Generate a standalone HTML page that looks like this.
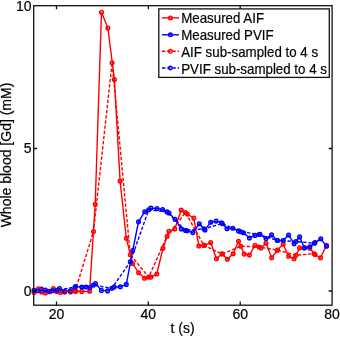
<!DOCTYPE html>
<html><head><meta charset="utf-8">
<style>
html,body{margin:0;padding:0;background:#fff;width:340px;height:337px;overflow:hidden}
svg{display:block}
text{font-family:"Liberation Sans",sans-serif;fill:#000;stroke:#000;stroke-width:0.2px}
</style></head><body>
<svg width="340" height="337" viewBox="0 0 340 337">
<rect width="340" height="337" fill="#fff"/>

<g font-size="14" style="filter:grayscale(1)">
<text x="56.5" y="318.8" text-anchor="middle">20</text>
<text x="148.3" y="318.8" text-anchor="middle">40</text>
<text x="240.2" y="318.8" text-anchor="middle">60</text>
<text x="332" y="318.8" text-anchor="middle">80</text>
<text x="31.6" y="296" text-anchor="end">0</text>
<text x="31.6" y="153.2" text-anchor="end">5</text>
<text x="31.6" y="10.7" text-anchor="end">10</text>
<text x="182.5" y="333" text-anchor="middle">t (s)</text>
<text transform="translate(11.4,155) rotate(-90)" text-anchor="middle">Whole blood [Gd] (mM)</text>
</g>
<!-- DATA -->
<g fill="none" stroke-width="1.4">
<g stroke="#f00"><path d="M34.0 292.6 L41.8 292.1 L45.4 293.0 L49.5 291.8 L53.3 288.6 L60.4 292.5 L64.7 292.1 L70.5 292.0 L76.0 291.2 L81.8 291.4 L89.6 291.2 L95.2 204.2 L101.5 12.3 L107.9 28.1 L114.4 79.5 L120.1 181.0 L126.3 238.3 L132.6 263.5 L138.6 272.8 L144.6 278.2 L151.0 277.1 L156.8 274.0 L163.0 248.2 L168.9 231.2 L174.8 228.9 L181.2 210.1 L187.4 214.0 L193.8 218.1 L198.9 246.0 L204.5 245.3 L210.7 242.5 L216.4 258.7 L222.1 253.8 L227.4 259.3 L233.1 253.8 L238.5 241.3 L244.2 254.1 L249.4 255.0 L255.0 245.4 L261.0 247.9 L266.0 243.3 L271.6 257.7 L277.3 250.3 L283.2 244.3 L288.6 256.3 L294.1 258.8 L299.6 247.9 L304.5 247.6 L309.8 248.2 L315.0 254.5 L320.5 257.8 L326.5 245.4"/><g stroke-width="1.5" stroke-dasharray="none"><circle cx="34.0" cy="292.6" r="1.8"/><circle cx="41.8" cy="292.1" r="1.8"/><circle cx="45.4" cy="293.0" r="1.8"/><circle cx="49.5" cy="291.8" r="1.8"/><circle cx="53.3" cy="288.6" r="1.8"/><circle cx="60.4" cy="292.5" r="1.8"/><circle cx="64.7" cy="292.1" r="1.8"/><circle cx="70.5" cy="292.0" r="1.8"/><circle cx="76.0" cy="291.2" r="1.8"/><circle cx="81.8" cy="291.4" r="1.8"/><circle cx="89.6" cy="291.2" r="1.8"/><circle cx="95.2" cy="204.2" r="1.8"/><circle cx="101.5" cy="12.3" r="1.8"/><circle cx="107.9" cy="28.1" r="1.8"/><circle cx="114.4" cy="79.5" r="1.8"/><circle cx="120.1" cy="181.0" r="1.8"/><circle cx="126.3" cy="238.3" r="1.8"/><circle cx="132.6" cy="263.5" r="1.8"/><circle cx="138.6" cy="272.8" r="1.8"/><circle cx="144.6" cy="278.2" r="1.8"/><circle cx="151.0" cy="277.1" r="1.8"/><circle cx="156.8" cy="274.0" r="1.8"/><circle cx="163.0" cy="248.2" r="1.8"/><circle cx="168.9" cy="231.2" r="1.8"/><circle cx="174.8" cy="228.9" r="1.8"/><circle cx="181.2" cy="210.1" r="1.8"/><circle cx="187.4" cy="214.0" r="1.8"/><circle cx="193.8" cy="218.1" r="1.8"/><circle cx="198.9" cy="246.0" r="1.8"/><circle cx="204.5" cy="245.3" r="1.8"/><circle cx="210.7" cy="242.5" r="1.8"/><circle cx="216.4" cy="258.7" r="1.8"/><circle cx="222.1" cy="253.8" r="1.8"/><circle cx="227.4" cy="259.3" r="1.8"/><circle cx="233.1" cy="253.8" r="1.8"/><circle cx="238.5" cy="241.3" r="1.8"/><circle cx="244.2" cy="254.1" r="1.8"/><circle cx="249.4" cy="255.0" r="1.8"/><circle cx="255.0" cy="245.4" r="1.8"/><circle cx="261.0" cy="247.9" r="1.8"/><circle cx="266.0" cy="243.3" r="1.8"/><circle cx="271.6" cy="257.7" r="1.8"/><circle cx="277.3" cy="250.3" r="1.8"/><circle cx="283.2" cy="244.3" r="1.8"/><circle cx="288.6" cy="256.3" r="1.8"/><circle cx="294.1" cy="258.8" r="1.8"/><circle cx="299.6" cy="247.9" r="1.8"/><circle cx="304.5" cy="247.6" r="1.8"/><circle cx="309.8" cy="248.2" r="1.8"/><circle cx="315.0" cy="254.5" r="1.8"/><circle cx="320.5" cy="257.8" r="1.8"/><circle cx="326.5" cy="245.4" r="1.8"/></g></g>
<g stroke="#00f"><path d="M34.0 290.2 L41.4 289.0 L45.4 290.0 L49.3 291.3 L52.4 290.8 L59.5 288.6 L64.7 291.3 L70.3 290.8 L75.6 286.6 L81.8 287.0 L86.0 287.0 L90.0 287.6 L95.5 283.6 L101.4 290.4 L107.6 290.9 L114.1 287.0 L120.3 286.8 L126.3 284.4 L132.7 250.5 L138.5 221.8 L144.7 211.7 L150.9 208.1 L157.0 208.6 L162.6 209.5 L169.0 213.0 L175.0 219.3 L181.2 228.9 L187.0 230.8 L192.9 232.6 L199.3 223.7 L205.0 230.0 L210.7 222.2 L216.1 221.1 L221.5 222.7 L227.0 228.8 L232.8 228.3 L238.5 230.9 L243.5 232.7 L249.4 238.0 L255.0 235.4 L260.0 234.3 L266.0 238.6 L271.6 234.9 L277.3 240.5 L283.2 240.5 L288.6 235.0 L294.1 243.7 L299.6 236.9 L304.4 248.0 L309.8 246.8 L315.0 242.6 L320.8 238.8 L326.5 246.3"/><g stroke-width="1.5" stroke-dasharray="none"><circle cx="34.0" cy="290.2" r="1.8"/><circle cx="41.4" cy="289.0" r="1.8"/><circle cx="45.4" cy="290.0" r="1.8"/><circle cx="49.3" cy="291.3" r="1.8"/><circle cx="52.4" cy="290.8" r="1.8"/><circle cx="59.5" cy="288.6" r="1.8"/><circle cx="64.7" cy="291.3" r="1.8"/><circle cx="70.3" cy="290.8" r="1.8"/><circle cx="75.6" cy="286.6" r="1.8"/><circle cx="81.8" cy="287.0" r="1.8"/><circle cx="86.0" cy="287.0" r="1.8"/><circle cx="90.0" cy="287.6" r="1.8"/><circle cx="95.5" cy="283.6" r="1.8"/><circle cx="101.4" cy="290.4" r="1.8"/><circle cx="107.6" cy="290.9" r="1.8"/><circle cx="114.1" cy="287.0" r="1.8"/><circle cx="120.3" cy="286.8" r="1.8"/><circle cx="126.3" cy="284.4" r="1.8"/><circle cx="132.7" cy="250.5" r="1.8"/><circle cx="138.5" cy="221.8" r="1.8"/><circle cx="144.7" cy="211.7" r="1.8"/><circle cx="150.9" cy="208.1" r="1.8"/><circle cx="157.0" cy="208.6" r="1.8"/><circle cx="162.6" cy="209.5" r="1.8"/><circle cx="169.0" cy="213.0" r="1.8"/><circle cx="175.0" cy="219.3" r="1.8"/><circle cx="181.2" cy="228.9" r="1.8"/><circle cx="187.0" cy="230.8" r="1.8"/><circle cx="192.9" cy="232.6" r="1.8"/><circle cx="199.3" cy="223.7" r="1.8"/><circle cx="205.0" cy="230.0" r="1.8"/><circle cx="210.7" cy="222.2" r="1.8"/><circle cx="216.1" cy="221.1" r="1.8"/><circle cx="221.5" cy="222.7" r="1.8"/><circle cx="227.0" cy="228.8" r="1.8"/><circle cx="232.8" cy="228.3" r="1.8"/><circle cx="238.5" cy="230.9" r="1.8"/><circle cx="243.5" cy="232.7" r="1.8"/><circle cx="249.4" cy="238.0" r="1.8"/><circle cx="255.0" cy="235.4" r="1.8"/><circle cx="260.0" cy="234.3" r="1.8"/><circle cx="266.0" cy="238.6" r="1.8"/><circle cx="271.6" cy="234.9" r="1.8"/><circle cx="277.3" cy="240.5" r="1.8"/><circle cx="283.2" cy="240.5" r="1.8"/><circle cx="288.6" cy="235.0" r="1.8"/><circle cx="294.1" cy="243.7" r="1.8"/><circle cx="299.6" cy="236.9" r="1.8"/><circle cx="304.4" cy="248.0" r="1.8"/><circle cx="309.8" cy="246.8" r="1.8"/><circle cx="315.0" cy="242.6" r="1.8"/><circle cx="320.8" cy="238.8" r="1.8"/><circle cx="326.5" cy="246.3" r="1.8"/></g></g>
<g stroke="#f00"><path d="M38.3 288.8 L56.7 291.5 L75.1 291.3 L93.5 231.5 L112.1 62.7 L130.3 254.8 L148.7 277.1 L167.1 236.2 L185.5 212.6 L203.9 245.4 L222.3 254.0 L240.7 246.2 L259.1 247.1 L277.5 250.1 L295.9 255.2 L314.3 253.7" stroke-dasharray="3.4 1.8"/><g stroke-width="1.5" stroke-dasharray="none"><circle cx="38.3" cy="288.8" r="1.8"/><circle cx="56.7" cy="291.5" r="1.8"/><circle cx="75.1" cy="291.3" r="1.8"/><circle cx="93.5" cy="231.5" r="1.8"/><circle cx="112.1" cy="62.7" r="1.8"/><circle cx="130.3" cy="254.8" r="1.8"/><circle cx="148.7" cy="277.1" r="1.8"/><circle cx="167.1" cy="236.2" r="1.8"/><circle cx="185.5" cy="212.6" r="1.8"/><circle cx="203.9" cy="245.4" r="1.8"/><circle cx="222.3" cy="254.0" r="1.8"/><circle cx="240.7" cy="246.2" r="1.8"/><circle cx="259.1" cy="247.1" r="1.8"/><circle cx="277.5" cy="250.1" r="1.8"/><circle cx="295.9" cy="255.2" r="1.8"/><circle cx="314.3" cy="253.7" r="1.8"/></g></g>
<g stroke="#00f"><path d="M38.3 290.8 L56.7 290.3 L75.1 287.0 L93.5 285.1 L111.9 288.3 L130.3 261.7 L148.7 209.8 L167.1 211.9 L185.5 230.4 L203.9 228.8 L222.3 223.6 L240.7 231.7 L259.1 234.5 L277.5 240.5 L295.9 241.5 L314.3 243.2" stroke-dasharray="3.4 1.8"/><g stroke-width="1.5" stroke-dasharray="none"><circle cx="38.3" cy="290.8" r="1.8"/><circle cx="56.7" cy="290.3" r="1.8"/><circle cx="75.1" cy="287.0" r="1.8"/><circle cx="93.5" cy="285.1" r="1.8"/><circle cx="111.9" cy="288.3" r="1.8"/><circle cx="130.3" cy="261.7" r="1.8"/><circle cx="148.7" cy="209.8" r="1.8"/><circle cx="167.1" cy="211.9" r="1.8"/><circle cx="185.5" cy="230.4" r="1.8"/><circle cx="203.9" cy="228.8" r="1.8"/><circle cx="222.3" cy="223.6" r="1.8"/><circle cx="240.7" cy="231.7" r="1.8"/><circle cx="259.1" cy="234.5" r="1.8"/><circle cx="277.5" cy="240.5" r="1.8"/><circle cx="295.9" cy="241.5" r="1.8"/><circle cx="314.3" cy="243.2" r="1.8"/></g></g>
</g>
<!-- /DATA -->






<!-- axes box -->
<g fill="none" stroke="#111" stroke-width="1.3">
<rect x="33.7" y="5.7" width="298.4" height="299.5"/>
<!-- x ticks bottom/top -->
<path d="M56.5 305.2V301.5M148.3 305.2V301.5M240.2 305.2V301.5M56.5 5.7V9.2M148.3 5.7V9.2M240.2 5.7V9.2"/>
<!-- y ticks left/right -->
<path d="M33.7 291H37M33.7 148.5H37M332 291H328.7M332 148.5H328.7"/>
</g>
<!-- legend -->
<rect x="158.8" y="8.9" width="170.5" height="68.5" fill="#fff" stroke="#111" stroke-width="1.3"/>
<g stroke-width="1.4" fill="none">
<path d="M162 17.9H179" stroke="#f00"/>
<circle cx="170.4" cy="17.9" r="1.8" stroke="#f00"/>
<path d="M162 34.8H179" stroke="#00f"/>
<circle cx="170.4" cy="34.8" r="1.8" stroke="#00f"/>
<path d="M162 51.3H179" stroke="#f00" stroke-dasharray="3.4 1.8"/>
<circle cx="170.4" cy="51.3" r="1.8" stroke="#f00"/>
<path d="M162 68H179" stroke="#00f" stroke-dasharray="3.4 1.8"/>
<circle cx="170.4" cy="68" r="1.8" stroke="#00f"/>
</g>
<g font-size="14" style="filter:grayscale(1)">
<text transform="translate(181.2,23.4) scale(0.951,1)">Measured AIF</text>
<text transform="translate(181.2,40.2) scale(0.951,1)">Measured PVIF</text>
<text transform="translate(181.2,56.9) scale(0.951,1)">AIF sub-sampled to 4 s</text>
<text transform="translate(181.2,73.6) scale(0.951,1)">PVIF sub-sampled to 4 s</text>
</g>
</svg>
</body></html>
